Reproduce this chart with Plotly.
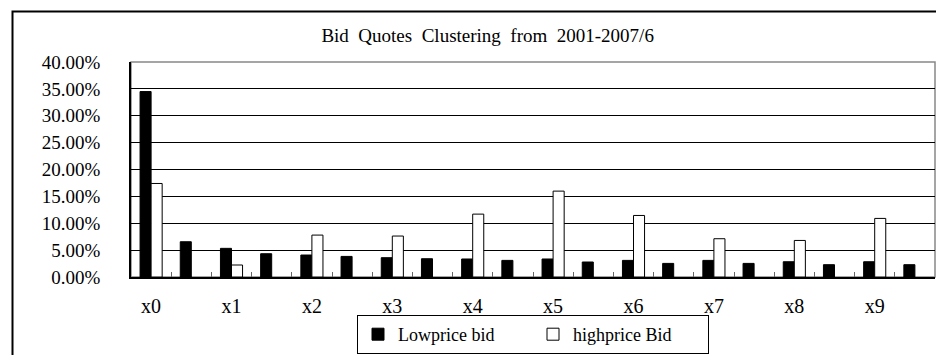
import plotly.graph_objects as go

slots = [f"s{i}" for i in range(20)]
tick_labels = ["x0", "", "x1", "", "x2", "", "x3", "", "x4", "", "x5", "", "x6", "", "x7", "", "x8", "", "x9", ""]
lowprice = [0.345, 0.0656, 0.0533, 0.0433, 0.0409, 0.0383, 0.0359, 0.034, 0.0335, 0.0309,
            0.0335, 0.0279, 0.0309, 0.0253, 0.0309, 0.0253, 0.0284, 0.0229, 0.0284, 0.0229]
highprice = [0.174, None, 0.0223, None, 0.078, None, 0.0762, None, 0.117, None,
             0.1598, None, 0.1145, None, 0.0712, None, 0.068, None, 0.109, None]

FONT = "Liberation Serif"

fig = go.Figure()
fig.add_trace(go.Bar(x=slots, y=lowprice, name="Lowprice bid",
                     marker=dict(color="black", line=dict(color="black", width=1))))
fig.add_trace(go.Bar(x=slots, y=highprice, name="highprice Bid",
                     marker=dict(color="white", line=dict(color="black", width=1))))

fig.update_layout(
    width=936, height=355,
    margin=dict(l=131, r=1, t=62, b=78, autoexpand=False),
    paper_bgcolor="white", plot_bgcolor="white",
    barmode="group", bargap=0.45, bargroupgap=0,
    font=dict(family=FONT, size=18, color="black"),
    title=dict(text="Bid  Quotes  Clustering  from  2001-2007/6", x=0.521, xref="container",
               xanchor="center", y=1 - 35 / 355, yanchor="middle",
               font=dict(family=FONT, size=19, color="black")),
    showlegend=True,
    legend=dict(orientation="h", x=0.5, xanchor="center", y=(277 - 354) / 215, yanchor="bottom",
                bordercolor="black", borderwidth=1, bgcolor="white",
                font=dict(family=FONT, size=18), itemwidth=30, tracegroupgap=0,
                entrywidth=130, entrywidthmode="pixels"),
    xaxis=dict(type="category", categoryorder="array", categoryarray=slots,
               tickmode="array", tickvals=slots, ticktext=tick_labels,
               tickson="boundaries", ticks="inside", ticklen=5, tickcolor="#666",
               showline=True, linecolor="black", linewidth=1.5,
               showgrid=False, range=[-0.5, 19.5], ticklabelstandoff=10,
               tickfont=dict(family=FONT, size=20)),
    yaxis=dict(range=[0, 0.4], dtick=0.05, tickformat=".2%",
               showgrid=True, gridcolor="black", gridwidth=1,
               showline=True, linecolor="black", linewidth=1.5,
               zeroline=False, ticks="", ticklabelstandoff=25,
               tickfont=dict(family=FONT, size=19)),
    shapes=[
        dict(type="rect", xref="paper", yref="paper", x0=0, x1=1, y0=0, y1=1,
             line=dict(color="#888", width=1.5), layer="below"),
        dict(type="rect", xref="paper", yref="paper", x0=(12.5 - 131) / 804, x1=1.05,
             y0=-0.6, y1=1 + (62 - 11.5) / 215, line=dict(color="black", width=2)),
    ],
)

fig.write_html("out.html")
